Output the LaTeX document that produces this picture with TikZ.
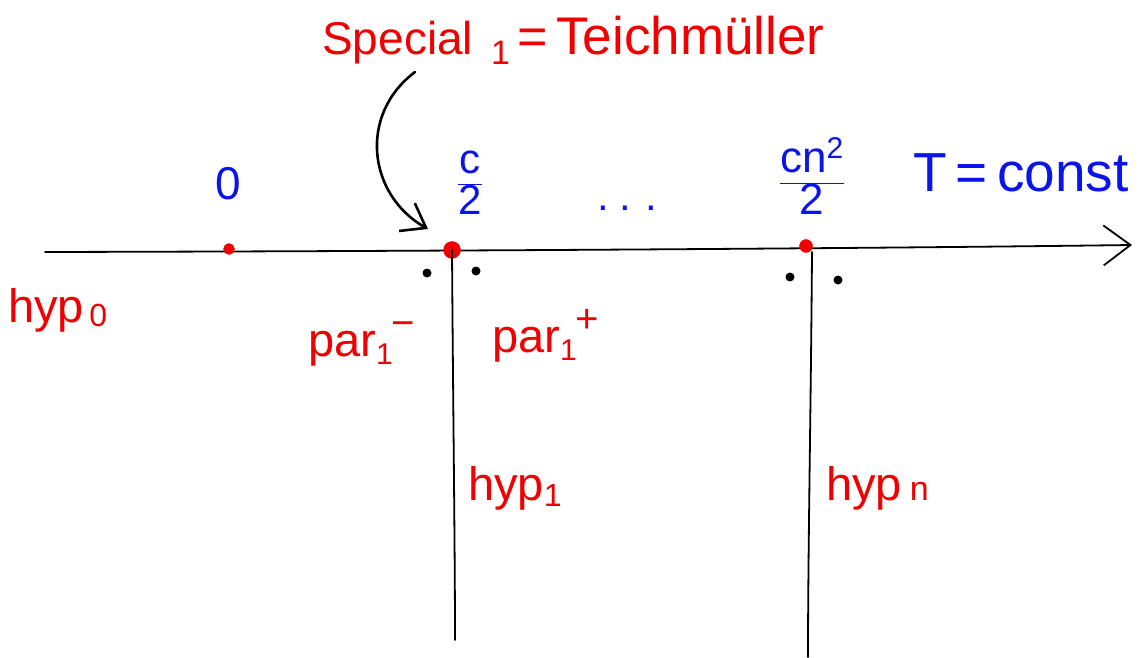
\documentclass[tikz,border=0pt]{standalone}
\usepackage{fontspec}
\setmainfont{Liberation Sans}
\usetikzlibrary{arrows.meta}
\definecolor{pred}{RGB}{240,0,0}
\definecolor{pblue}{RGB}{10,20,235}
\newcommand{\mysupsub}[2]{\raisebox{-8pt}{\fontsize{30}{30}\selectfont #2}\hspace{-1pt}\raisebox{20pt}{\fontsize{40}{40}\selectfont #1}}
\begin{document}
\begin{tikzpicture}[x=1pt,y=-1pt,
  redlbl/.style={text=pred,inner sep=0pt,anchor=base west,font=\fontsize{47}{52}\selectfont},
  bluelbl/.style={text=pblue,inner sep=0pt,font=\fontsize{42}{48}\selectfont},
  reddot/.style={circle,fill=pred,draw=pred,inner sep=0pt},
  blackdot/.style={circle,fill=black,inner sep=0pt,minimum size=9pt},
  lineblk/.style={draw=black,line width=1.8pt,line cap=round}]
\useasboundingbox (0,0) rectangle (1144,658);
% axis
\coordinate (axL) at (45,252);
\coordinate (axR) at (1132,245);
\draw[lineblk,-{Straight Barb[length=27pt,width=40pt,line width=1.8pt]}] (axL) .. controls (500,251) and (900,248) .. (axR);
% red dots on axis
\node[reddot,minimum size=11pt] (d0) at (229,249) {};
\node[reddot,minimum size=17pt] (d1) at (452,250) {};
\node[reddot,minimum size=13pt] (d2) at (806,246) {};
% vertical lines
\coordinate (v1b) at (455,640);
\coordinate (v2t) at (812,252);
\coordinate (v2b) at (808,657);
\draw[lineblk] (d1.center) .. controls (453,400) and (455,550) .. (v1b);
\draw[lineblk] (v2t) .. controls (811,400) and (808,550) .. (v2b);
% black dots
\node[blackdot] (b1) at (427,273) {};
\node[blackdot] (b2) at (476,271) {};
\node[blackdot] (b3) at (790,277) {};
\node[blackdot] (b4) at (838,280) {};
% blue labels
\node[bluelbl,font=\fontsize{46}{50}\selectfont] (l0) at (228,184) {0};
\node[bluelbl] (lc) at (470,183) {$\displaystyle\frac{\mbox{c}}{\mbox{2}}$};
\node[bluelbl,font=\fontsize{44}{48}\selectfont] (lcn) at (812,176) {$\displaystyle\frac{\mbox{cn}^{\mbox{\fontsize{30}{32}\selectfont 2}}}{\mbox{2}}$};
\node[bluelbl] (ldots) at (627,208) {.\hspace{11pt}.\hspace{14pt}.};
\node[bluelbl,anchor=base west,font=\fontsize{55}{60}\selectfont] (lT) at (913,192) {T\,=\,const};
% red labels
\node[redlbl,font=\fontsize{46}{50}\selectfont] (lsp) at (322,55) {Special\hspace{18pt}\raisebox{-10pt}{\fontsize{34}{34}\selectfont 1}\hspace{8pt}{\fontsize{52}{52}\selectfont =}\hspace{8pt}{\fontsize{53}{60}\selectfont Teichmüller}};
\node[redlbl] (h0) at (8,322) {hyp\raisebox{-4pt}{\fontsize{32}{32}\selectfont\,0}};
\node[redlbl] (pm) at (308,356) {par\mysupsub{−}{1}};
\node[redlbl] (pp) at (492,352) {par\mysupsub{+}{1}};
\node[redlbl] (h1) at (468,500) {hyp\raisebox{-6pt}{\fontsize{32}{32}\selectfont 1}};
\node[redlbl] (hn) at (826,500) {hyp\hspace{8pt}{\fontsize{34}{34}\selectfont n}};
% curved arrow
\coordinate (cs) at (415,72);
\coordinate (ce) at (428,229);
\draw[draw=black,line width=2.6pt,line cap=round,-{Straight Barb[length=22pt,width=32pt,line width=2.6pt]}] (cs) .. controls (358,115) and (368,195) .. (ce);
\end{tikzpicture}
\end{document}
